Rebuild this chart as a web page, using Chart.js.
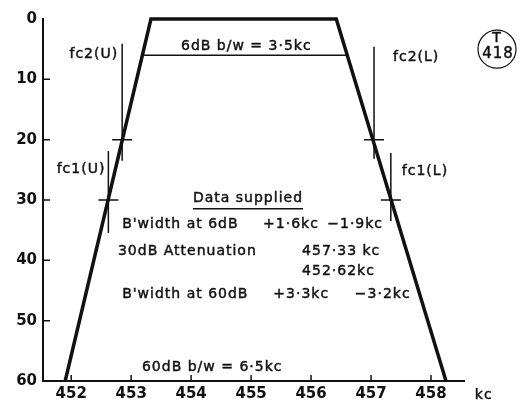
<!DOCTYPE html>
<html>
<head>
<meta charset="utf-8">
<script src="https://cdn.jsdelivr.net/npm/chart.js@4.4.0/dist/chart.umd.min.js"></script>
<style>
  html, body { margin: 0; padding: 0; background: #fff; }
  #wrap { width: 521px; height: 401px; }
</style>
</head>
<body>
<div id="wrap"><canvas id="myChart"></canvas></div>
<script>
// filter skirt: attenuation (dB) against frequency (kc)
const responseKc = [451.9, 453.33, 456.42, 458.25];
const responseDb = [60, 0, 0, 60];

// 6dB bandwidth bar across the top
const bw6Kc = [453.19, 456.6];
const bw6Db = [6, 6];

// cut-off points on the two skirts
const cutoffNames = ['fc2(U)', 'fc1(U)', 'fc2(L)', 'fc1(L)'];
const cutoffKc = [452.85, 452.62, 457.05, 457.33];
const cutoffDb = [20, 30, 20, 30];

const kcTicks = [452, 453, 454, 455, 456, 457, 458];
const dbTicks = [0, 10, 20, 30, 40, 50, 60];

const INK = '#111';
const FAMILY = '"DejaVu Sans", sans-serif';

// how each cut-off marker is drawn (pixels, relative to the point)
const cutoffLook = [
  { top: -96, bottom: 21, lx: -4, ly: -85, align: 'right' },
  { top: -49, bottom: 33, lx: -3, ly: -31, align: 'right' },
  { top: -93, bottom: 19, lx: 19, ly: -82, align: 'left' },
  { top: -47, bottom: 21, lx: 11, ly: -29, align: 'left' }
];

// lettering, anchored in kc / dB
const notes = [
  { text: '6dB b/w = 3·5kc', kc: 454.92, db: 4.6, align: 'center' },
  { text: 'Data supplied', kc: 454.03, db: 29.8, underline: true },
  { text: "B'width at 6dB", kc: 452.85, db: 34.1 },
  { text: '+1·6kc', kc: 455.2, db: 34.1 },
  { text: '−1·9kc', kc: 456.27, db: 34.1 },
  { text: '30dB Attenuation', kc: 452.78, db: 38.5 },
  { text: '457·33 kc', kc: 455.85, db: 38.5 },
  { text: '452·62kc', kc: 455.85, db: 41.8 },
  { text: "B'width at 60dB", kc: 452.85, db: 45.7 },
  { text: '+3·3kc', kc: 455.37, db: 45.7 },
  { text: '−3·2kc', kc: 456.73, db: 45.7 },
  { text: '60dB b/w = 6·5kc', kc: 453.18, db: 57.8 },
  { text: 'kc', kc: 458.73, db: 62.3 }
];

// pen lettering: fill plus a thin stroke so it reads a bit heavier
function say(ctx, text, x, y, align, size) {
  ctx.font = (size || 14) + 'px ' + FAMILY;
  ctx.textAlign = align || 'left';
  ctx.textBaseline = 'middle';
  ctx.fillText(text, x, y);
  ctx.lineWidth = 0.45;
  ctx.strokeText(text, x, y);
}

const drawing = {
  id: 'drawing',
  afterDatasetsDraw(chart) {
    const ctx = chart.ctx;
    const xs = chart.scales.x, ys = chart.scales.y;
    const area = chart.chartArea;
    ctx.save();
    ctx.strokeStyle = INK;
    ctx.fillStyle = INK;
    try { ctx.letterSpacing = '1px'; } catch (e) {}

    // inward ticks
    ctx.lineWidth = 1.5;
    ctx.beginPath();
    dbTicks.slice(1, -1).forEach(v => {
      const y = ys.getPixelForValue(v);
      ctx.moveTo(area.left, y);
      ctx.lineTo(area.left + 7, y);
    });
    kcTicks.forEach(v => {
      const x = xs.getPixelForValue(v);
      ctx.moveTo(x, area.bottom);
      ctx.lineTo(x, area.bottom - 6);
    });
    ctx.stroke();

    // cut-off markers
    cutoffNames.forEach((name, i) => {
      const x = xs.getPixelForValue(cutoffKc[i]);
      const y = ys.getPixelForValue(cutoffDb[i]);
      const c = cutoffLook[i];
      ctx.lineWidth = 1.5;
      ctx.beginPath();
      ctx.moveTo(x, y + c.top);
      ctx.lineTo(x, y + c.bottom);
      ctx.moveTo(x - 10, y);
      ctx.lineTo(x + 10, y);
      ctx.stroke();
      say(ctx, name, x + c.lx, y + c.ly, c.align);
    });

    // text block
    notes.forEach(n => {
      const x = xs.getPixelForValue(n.kc);
      const y = ys.getPixelForValue(n.db);
      say(ctx, n.text, x, y, n.align);
      if (n.underline) {
        const w = ctx.measureText(n.text).width;
        ctx.lineWidth = 1.5;
        ctx.beginPath();
        ctx.moveTo(x, y + 10);
        ctx.lineTo(x + w, y + 10);
        ctx.stroke();
      }
    });

    // drawing number in its circle
    const cx = xs.getPixelForValue(459.1), cy = ys.getPixelForValue(5);
    ctx.lineWidth = 1.2;
    ctx.beginPath();
    ctx.arc(cx, cy, 19, 0, Math.PI * 2);
    ctx.stroke();
    say(ctx, 'T', cx, cy - 11, 'center', 14);
    say(ctx, '418', cx + 1, cy + 5, 'center', 15);
    ctx.restore();
  }
};

new Chart(document.getElementById('myChart'), {
  type: 'scatter',
  data: {
    datasets: [
      {
        data: responseKc.map((x, i) => ({ x: x, y: responseDb[i] })),
        showLine: true,
        borderColor: INK,
        borderWidth: 3.5,
        borderJoinStyle: 'miter',
        pointRadius: 0,
        clip: false
      },
      {
        data: bw6Kc.map((x, i) => ({ x: x, y: bw6Db[i] })),
        showLine: true,
        borderColor: INK,
        borderWidth: 1.5,
        pointRadius: 0,
        clip: false
      }
    ]
  },
  options: {
    responsive: true,
    maintainAspectRatio: false,
    animation: false,
    layout: { padding: { top: 19, right: 57, left: 0, bottom: 0 } },
    plugins: { legend: { display: false }, tooltip: { enabled: false } },
    scales: {
      x: {
        type: 'linear',
        min: 451.53,
        max: 458.55,
        afterBuildTicks: s => { s.ticks = kcTicks.map(v => ({ value: v })); },
        afterFit: s => { s.height = 20; },
        grid: { display: true, drawOnChartArea: false, drawTicks: false },
        border: { display: true, color: INK, width: 2 },
        ticks: {
          color: INK,
          font: { family: FAMILY, size: 15, weight: 'bold' },
          padding: 4,
          maxRotation: 0,
          autoSkip: false
        }
      },
      y: {
        type: 'linear',
        reverse: true,
        min: 0,
        max: 60,
        afterBuildTicks: s => { s.ticks = dbTicks.map(v => ({ value: v })); },
        afterFit: s => { s.width = 43; },
        grid: { display: true, drawOnChartArea: false, drawTicks: false },
        border: { display: true, color: INK, width: 2 },
        ticks: {
          color: INK,
          font: { family: FAMILY, size: 15, weight: 'bold' },
          padding: 6
        }
      }
    }
  },
  plugins: [drawing]
});
</script>
</body>
</html>
